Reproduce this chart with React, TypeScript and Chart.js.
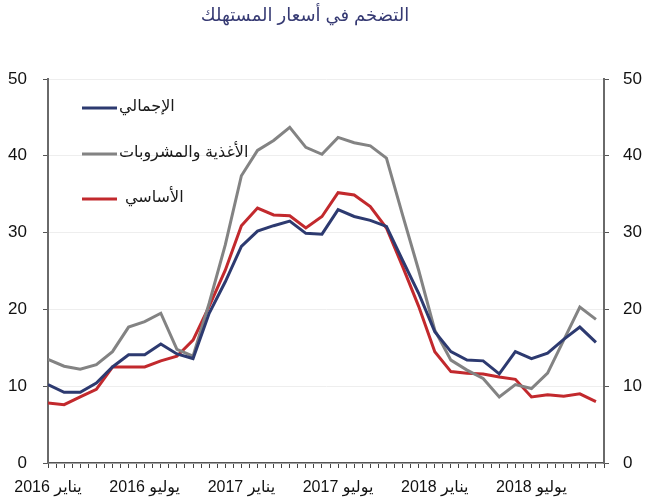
import React, { useEffect, useRef } from 'react';
import { Chart, registerables } from 'chart.js';

Chart.register(...registerables);

// Monthly observations, January 2016 to November 2018
const months = [
  '2016-01', '2016-02', '2016-03', '2016-04', '2016-05', '2016-06',
  '2016-07', '2016-08', '2016-09', '2016-10', '2016-11', '2016-12',
  '2017-01', '2017-02', '2017-03', '2017-04', '2017-05', '2017-06',
  '2017-07', '2017-08', '2017-09', '2017-10', '2017-11', '2017-12',
  '2018-01', '2018-02', '2018-03', '2018-04', '2018-05', '2018-06',
  '2018-07', '2018-08', '2018-09', '2018-10', '2018-11',
];

// Headline inflation, % year on year
const total = [
  10.2, 9.2, 9.2, 10.4, 12.5, 14.1, 14.1, 15.5, 14.2, 13.6, 19.5, 23.6,
  28.2, 30.2, 30.9, 31.5, 29.9, 29.8, 33.0, 32.1, 31.6, 30.8, 26.4, 22.1,
  17.1, 14.5, 13.4, 13.3, 11.6, 14.5, 13.6, 14.3, 16.1, 17.7, 15.7,
];

// Food and beverages
const foodBeverages = [
  13.5, 12.6, 12.2, 12.8, 14.5, 17.7, 18.4, 19.5, 14.8, 13.9, 20.8, 28.4,
  37.4, 40.7, 42.0, 43.7, 41.1, 40.2, 42.4, 41.7, 41.3, 39.7, 32.3, 25.1,
  17.3, 13.4, 12.1, 11.0, 8.6, 10.2, 9.7, 11.7, 16.0, 20.3, 18.7,
];

// Core inflation
const core = [
  7.8, 7.6, 8.6, 9.6, 12.5, 12.5, 12.5, 13.3, 13.9, 16.0, 20.4, 25.1,
  30.9, 33.2, 32.3, 32.2, 30.6, 32.1, 35.2, 34.9, 33.4, 30.6, 25.6, 20.4,
  14.5, 11.9, 11.7, 11.6, 11.2, 10.9, 8.6, 8.9, 8.7, 9.0, 8.0,
];

const seriesNames = ['الإجمالي', 'الأغذية والمشروبات', 'الأساسي'];
const seriesColors = ['#2d3a70', '#838383', '#c2292d'];

const xTickPositions = [0, 6, 12, 18, 24, 30];
const xTickLabels = ['يناير 2016', 'يوليو 2016', 'يناير 2017', 'يوليو 2017', 'يناير 2018', 'يوليو 2018'];

const yMin = 0;
const yMax = 50;
const yStep = 10;

const chartTitle = 'التضخم في أسعار المستهلك';

const FONT = '"Liberation Sans", "DejaVu Sans", Arial, sans-serif';

// Title above the plot and the in-plot legend (line sample to the left of each name)
const overlayPlugin = {
  id: 'overlay',
  afterDraw(chart: any) {
    const { ctx, chartArea } = chart;
    ctx.save();
    ctx.font = `18px ${FONT}`;
    ctx.fillStyle = '#363a73';
    ctx.textAlign = 'center';
    ctx.textBaseline = 'middle';
    ctx.fillText(chartTitle, 305, 16);

    const rowY = [108, 154, 199];
    const lineStart = chartArea.left + 34;
    const lineEnd = chartArea.left + 69;
    chart.data.datasets.forEach((ds: any, i: number) => {
      const y = rowY[i];
      ctx.strokeStyle = ds.borderColor;
      ctx.lineWidth = 3;
      ctx.beginPath();
      ctx.moveTo(lineStart, y);
      ctx.lineTo(lineEnd, y);
      ctx.stroke();
      ctx.fillStyle = '#1a1a1a';
      ctx.font = `16px ${FONT}`;
      ctx.textAlign = 'left';
      ctx.textBaseline = 'middle';
      ctx.fillText(ds.label, lineEnd + (i === 2 ? 8 : 2), y - 1);
    });
    ctx.restore();
  },
};

function toPoints(values: number[]) {
  return values.map((v, i) => ({ x: i, y: v }));
}

export default function App() {
  const canvasRef = useRef<HTMLCanvasElement | null>(null);

  useEffect(() => {
    const canvas = canvasRef.current;
    if (!canvas) return;

    const yAxisCommon = {
      min: yMin,
      max: yMax,
      ticks: {
        stepSize: yStep,
        color: '#111',
        font: { size: 17, family: FONT },
      },
      border: { display: true, color: '#6a6a6a', width: 2 },
    };

    const chart = new Chart(canvas, {
      type: 'line',
      data: {
        labels: months,
        datasets: [total, foodBeverages, core].map((values, i) => ({
          label: seriesNames[i],
          data: toPoints(values),
          borderColor: seriesColors[i],
          backgroundColor: seriesColors[i],
          borderWidth: 3,
          pointRadius: 0,
          tension: 0,
          fill: false,
        })),
      },
      options: {
        animation: false,
        responsive: false,
        layout: { padding: { top: 79, left: 0, right: 0, bottom: 0 } },
        plugins: {
          legend: { display: false },
          tooltip: { enabled: false },
          title: { display: false },
        },
        scales: {
          x: {
            type: 'linear',
            position: 'bottom',
            min: 0,
            max: months.length - 0.5,
            afterFit: (s: any) => {
              s.height = 37;
            },
            grid: {
              display: true,
              drawOnChartArea: false,
              drawTicks: true,
              tickLength: 5,
              color: '#444',
              lineWidth: 1,
            },
            border: { display: true, color: '#555', width: 1.5 },
            ticks: {
              stepSize: 0.5,
              autoSkip: false,
              maxRotation: 0,
              padding: 10,
              color: '#111',
              font: { size: 16, family: FONT },
              callback: (value: any) => {
                const idx = xTickPositions.findIndex((p) => Math.abs(p - Number(value)) < 1e-6);
                // right-to-left embedding so the year sits left of the month name
                return idx >= 0 ? `\u202B${xTickLabels[idx]}\u202C` : '';
              },
            },
          },
          y: {
            ...yAxisCommon,
            position: 'left',
            afterFit: (s: any) => {
              s.width = 48;
            },
            ticks: { ...yAxisCommon.ticks, padding: 16 },
            grid: {
              color: '#eeeeee',
              tickColor: '#555',
              tickLength: 5,
              lineWidth: 1,
            },
          },
          y2: {
            ...yAxisCommon,
            position: 'right',
            afterFit: (s: any) => {
              s.width = 53;
            },
            ticks: { ...yAxisCommon.ticks, padding: 14 },
            grid: {
              drawOnChartArea: false,
              tickColor: '#555',
              tickLength: 5,
            },
          },
        },
      } as any,
      plugins: [overlayPlugin],
    });

    return () => {
      chart.destroy();
    };
  }, []);

  return (
    <div style={{ position: 'absolute', left: 0, top: 0, width: 657, height: 500, background: '#fff' }}>
      <canvas ref={canvasRef} width={657} height={500} style={{ display: 'block' }} />
    </div>
  );
}
